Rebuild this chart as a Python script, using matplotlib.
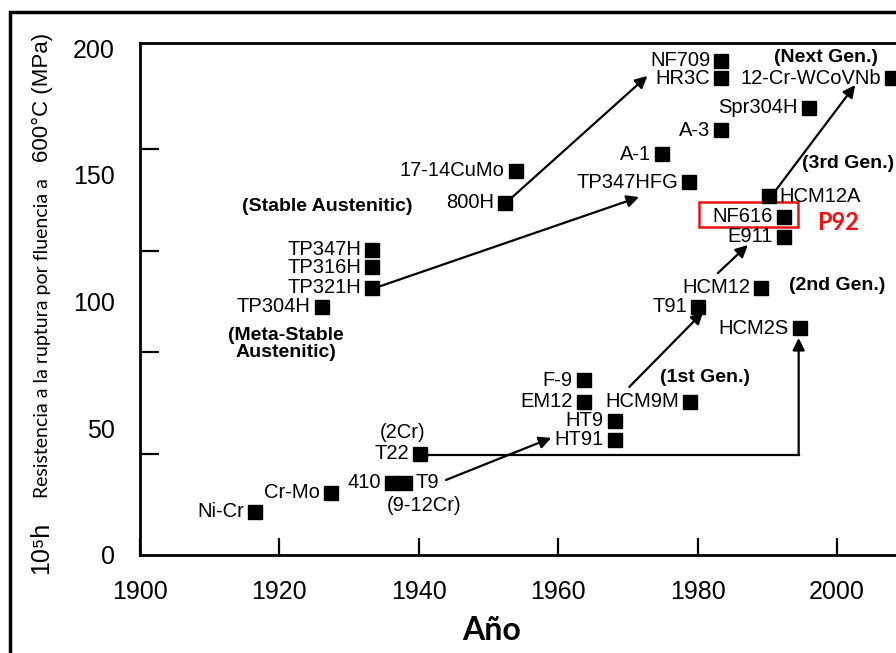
import numpy as np
import matplotlib
matplotlib.use('Agg')
from matplotlib import pyplot as plt
from matplotlib.patches import Rectangle

# steel grades: year of introduction vs 1e5 h creep rupture strength at 600 C (MPa)
names = ['Ni-Cr', 'Cr-Mo', '410', 'T9', 'T22', 'HT91', 'HT9', 'EM12', 'F-9', 'HCM9M',
         'T91', 'HCM12', 'HCM2S', 'E911', 'NF616', 'HCM12A', 'TP347HFG', 'A-1', 'A-3',
         'Spr304H', 'HR3C', 'NF709', '12-Cr-WCoVNb', '17-14CuMo', '800H',
         'TP347H', 'TP316H', 'TP321H', 'TP304H']
years = [1916.5, 1927.4, 1936.2, 1938.0, 1940.2, 1968.1, 1968.1, 1963.7, 1963.7, 1978.9,
         1980.1, 1989.1, 1994.7, 1992.4, 1992.4, 1990.2, 1978.8, 1974.9, 1983.4,
         1996.0, 1983.4, 1983.4, 2007.9, 1953.9, 1952.4,
         1933.3, 1933.3, 1933.3, 1926.1]
strength = [17.0, 24.5, 28.5, 28.5, 40.0, 45.5, 53.0, 60.5, 69.0, 60.5,
            98.0, 105.5, 89.5, 125.5, 133.5, 141.5, 147.0, 158.0, 167.5,
            176.5, 188.0, 195.0, 188.0, 151.5, 139.0,
            120.5, 113.5, 105.5, 98.0]
label_right = ['T9', 'HCM12A']   # these names sit to the right of their marker

# development paths (start, end) in (year, MPa)
arrows = [((1953.1, 140.4), (1972.8, 189.0)),
          ((1934.1, 105.7), (1971.6, 141.2)),
          ((1943.9, 29.6), (1959.0, 46.2)),
          ((1970.2, 66.3), (1980.8, 95.9)),
          ((1982.9, 111.2), (1987.2, 122.3)),
          ((1990.7, 142.0), (2002.6, 185.4))]
t22_path_x = [1941.2, 1994.5]
t22_path_y = [39.4, 85.6]

groups = [('(Stable Austenitic)', 1926.8, 137.3, 'center'),
          ('(Meta-Stable\nAustenitic)', 1920.9, 83.2, 'center'),
          ('(1st Gen.)', 1981.1, 70.2, 'center'),
          ('(2nd Gen.)', 2000.0, 106.5, 'center'),
          ('(3rd Gen.)', 1995.0, 154.6, 'left'),
          ('(Next Gen.)', 1998.4, 196.1, 'center')]
notes = [('(2Cr)', 1937.6, 48.5), ('(9-12Cr)', 1940.7, 19.7)]

xticks = [1900, 1920, 1940, 1960, 1980, 2000]
yticks = [0, 50, 100, 150, 200]
ytick_marks = [40, 80, 120, 160]

plt.rcParams['font.family'] = ['Liberation Sans', 'DejaVu Sans']

fig = plt.figure(figsize=(8.96, 6.53), dpi=100)
ax = fig.add_axes([0.15625, 0.1501, 0.8557, 0.7841])
ax.set_xlim(1900, 2010)
ax.set_ylim(0, 202)

for s in ['left', 'bottom', 'top']:
    ax.spines[s].set_linewidth(2.0)
ax.spines['right'].set_visible(False)

ax.set_xticks(xticks)
ax.set_xticklabels([str(t) for t in xticks])
ax.set_yticks(yticks)
ax.set_yticklabels([str(t) for t in yticks])
ax.set_yticks(ytick_marks, minor=True)
ax.tick_params(axis='x', direction='in', length=12, width=1.6, labelsize=18, pad=18)
ax.tick_params(axis='y', which='major', length=0, labelsize=18, pad=18)
ax.tick_params(axis='y', which='minor', direction='in', length=14, width=1.6)

ax.plot(years, strength, 's', color='black', markersize=10, linestyle='none', clip_on=False)

for n, x, y in zip(names, years, strength):
    if n in label_right:
        ax.annotate(n, (x, y), xytext=(8, 0), textcoords='offset points',
                    ha='left', va='center', fontsize=14.5)
    else:
        ax.annotate(n, (x, y), xytext=(-8, 0), textcoords='offset points',
                    ha='right', va='center', fontsize=14.5)

arrow_kw = dict(arrowstyle='-|>', lw=1.6, color='black', mutation_scale=18,
                shrinkA=0, shrinkB=0)
for (x0, y0), (x1, y1) in arrows:
    ax.annotate('', xy=(x1, y1), xytext=(x0, y0), arrowprops=arrow_kw)

# T22 -> HCM2S: horizontal run then up
ax.plot([t22_path_x[0], t22_path_x[1]], [t22_path_y[0], t22_path_y[0]], color='black', lw=1.6)
ax.annotate('', xy=(t22_path_x[1], t22_path_y[1]), xytext=(t22_path_x[1], t22_path_y[0]),
            arrowprops=arrow_kw)

for txt, x, y, ha in groups:
    ax.text(x, y, txt, ha=ha, va='center', fontsize=14, fontweight='bold', linespacing=0.95)
for txt, x, y in notes:
    ax.text(x, y, txt, ha='center', va='center', fontsize=14.5)

# P92 highlight around NF616
i = names.index('NF616')
ax.add_patch(Rectangle((years[i] - 12.2, strength[i] - 4.3), 14.2, 10.1,
                       fill=False, edgecolor='#ee1111', lw=1.8, clip_on=False))
ax.text(2000.1, 131.0, 'P92', color='#ee1111', fontsize=17, fontweight='bold',
        family=['Lato', 'DejaVu Sans'], ha='center', va='center')

# rotated y label in three parts
fig.text(0.0535, 0.161, '10⁵h', rotation=90, rotation_mode='anchor',
         ha='center', va='baseline', fontsize=18)
fig.text(0.0535, 0.4816, 'Resistencia a la ruptura por fluencia a', rotation=90,
         rotation_mode='anchor', ha='center', va='baseline', fontsize=14,
         family=['Lato', 'DejaVu Sans'])
fig.text(0.0535, 0.8515, '600°C (MPa)', rotation=90, rotation_mode='anchor',
         ha='center', va='baseline', fontsize=16)

fig.text(0.549, 0.035, 'Año', ha='center', va='center', fontsize=23, fontweight='bold',
         family=['Lato', 'DejaVu Sans'])

# outer frame
fig.add_artist(Rectangle((10 / 896, -0.5), 2, 0.9809 + 0.5, transform=fig.transFigure,
                         fill=False, edgecolor='black', lw=2.5))

fig.savefig('out.png', dpi=100)
